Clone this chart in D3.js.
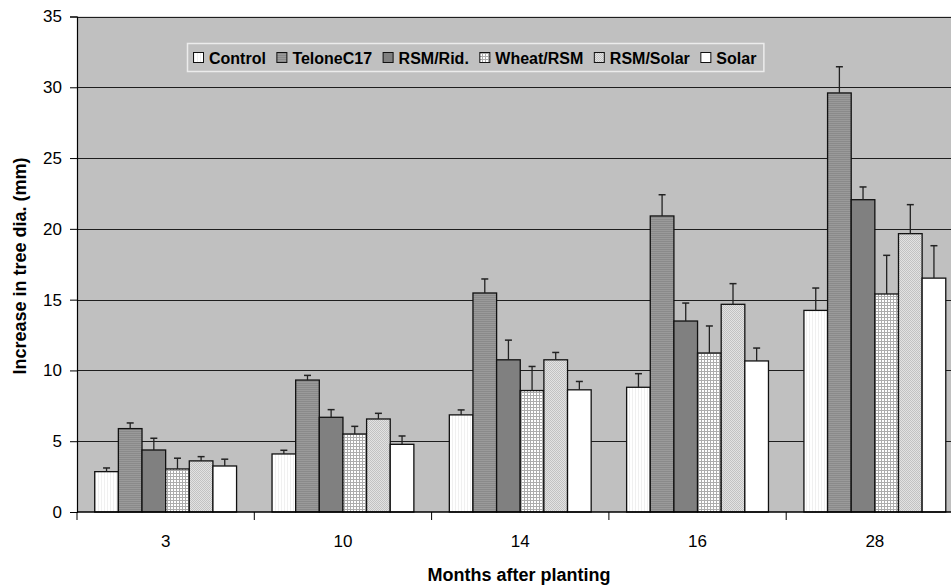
<!DOCTYPE html>
<html>
<head>
<meta charset="utf-8">
<script src="https://cdn.jsdelivr.net/npm/d3@7"></script>
<style>
  html, body { margin: 0; padding: 0; background: #fff; overflow: hidden; }
  svg { display: block; font-family: "Liberation Sans", Arial, sans-serif; }
</style>
</head>
<body>
<svg id="chart" width="951" height="587"></svg>
<script>
// ---- data ----
const categories = ["3", "10", "14", "16", "28"];
const series = ["Control", "TeloneC17", "RSM/Rid.", "Wheat/RSM", "RSM/Solar", "Solar"];
const values = [
  [2.85, 4.10, 6.86, 8.81, 14.24],   // Control
  [5.89, 9.32, 15.47, 20.91, 29.6],  // TeloneC17
  [4.38, 6.69, 10.75, 13.49, 22.06], // RSM/Rid.
  [3.04, 5.51, 8.58, 11.23, 15.4],   // Wheat/RSM
  [3.61, 6.57, 10.75, 14.67, 19.66], // RSM/Solar
  [3.25, 4.78, 8.63, 10.67, 16.52]   // Solar
];
const errors = [
  [0.26, 0.26, 0.35, 0.96, 1.58],
  [0.40, 0.33, 0.99, 1.50, 1.85],
  [0.83, 0.54, 1.39, 1.27, 0.90],
  [0.76, 0.54, 1.70, 1.91, 2.73],
  [0.30, 0.40, 0.52, 1.46, 2.05],
  [0.48, 0.59, 0.59, 0.91, 2.29]
];
const yTicks = [0, 5, 10, 15, 20, 25, 30, 35];
const xTitle = "Months after planting";
const yTitle = "Increase in tree dia. (mm)";

// ---- layout ----
const svg = d3.select("#chart");
const plotLeft = 77, plotTop = 16.5, plotBottom = 512;
const catW = 177.3;
const plotRight = plotLeft + catW * categories.length;

const x0 = d3.scaleBand().domain(categories).range([plotLeft, plotRight]).padding(0);
const x1 = d3.scaleBand().domain(series).range([catW * 0.1, catW * 0.9]).padding(0);
const y = d3.scaleLinear().domain([0, 35]).range([plotBottom, plotTop]);

// ---- patterns ----
const defs = svg.append("defs");
function pat(id, w, h, draw) {
  const p = defs.append("pattern").attr("id", id).attr("patternUnits", "userSpaceOnUse")
    .attr("width", w).attr("height", h);
  draw(p);
}
pat("pControl", 3, 3, p => {
  p.append("rect").attr("width", 3).attr("height", 3).attr("fill", "#ffffff");
  p.append("rect").attr("x", 2).attr("width", 1).attr("height", 3).attr("fill", "#f0f0f0");
});
pat("pTelone", 2, 2, p => {
  p.append("rect").attr("width", 2).attr("height", 2).attr("fill", "#9a9a9a");
  p.append("rect").attr("y", 1).attr("width", 2).attr("height", 1).attr("fill", "#8a8a8a");
});
pat("pWheat", 3, 3, p => {
  p.append("rect").attr("width", 3).attr("height", 3).attr("fill", "#acacac");
  p.append("rect").attr("width", 2).attr("height", 2).attr("fill", "#ffffff");
});
pat("pSolarR", 2, 2, p => {
  p.append("rect").attr("width", 2).attr("height", 2).attr("fill", "#e2e2e2");
  p.append("rect").attr("width", 1).attr("height", 1).attr("fill", "#c2c2c2");
  p.append("rect").attr("x", 1).attr("y", 1).attr("width", 1).attr("height", 1).attr("fill", "#c2c2c2");
});
const fills = ["url(#pControl)", "url(#pTelone)", "#808080", "url(#pWheat)", "url(#pSolarR)", "#ffffff"];

// ---- plot background ----
svg.append("rect").attr("x", plotLeft).attr("y", plotTop).attr("width", plotRight - plotLeft).attr("height", plotBottom - plotTop)
  .attr("fill", "#c0c0c0");

// gridlines
svg.append("g").selectAll("line").data(yTicks.filter(d => d > 0)).join("line")
  .attr("x1", plotLeft).attr("x2", plotRight)
  .attr("y1", d => Math.round(y(d)) + 0.5).attr("y2", d => Math.round(y(d)) + 0.5)
  .attr("stroke", "#1e1e1e").attr("stroke-width", 1.2);

// ---- bars ----
const groups = svg.append("g").selectAll("g").data(series).join("g");
groups.each(function(s, si) {
  const g = d3.select(this);
  const data = categories.map((c, ci) => ({c, v: values[si][ci], e: errors[si][ci]}));
  g.selectAll("rect").data(data).join("rect")
    .attr("x", d => x0(d.c) + x1(s))
    .attr("y", d => y(d.v))
    .attr("width", x1.bandwidth())
    .attr("height", d => plotBottom - y(d.v))
    .attr("fill", fills[si])
    .attr("stroke", "#111").attr("stroke-width", 1.3);
  g.selectAll("line.err").data(data).join("line").attr("class", "err")
    .attr("x1", d => x0(d.c) + x1(s) + x1.bandwidth() / 2)
    .attr("x2", d => x0(d.c) + x1(s) + x1.bandwidth() / 2)
    .attr("y1", d => y(d.v)).attr("y2", d => y(d.v + d.e))
    .attr("stroke", "#222").attr("stroke-width", 1.3);
  g.selectAll("line.cap").data(data).join("line").attr("class", "cap")
    .attr("x1", d => x0(d.c) + x1(s) + x1.bandwidth() / 2 - 3.5)
    .attr("x2", d => x0(d.c) + x1(s) + x1.bandwidth() / 2 + 3.5)
    .attr("y1", d => y(d.v + d.e)).attr("y2", d => y(d.v + d.e))
    .attr("stroke", "#222").attr("stroke-width", 1.5);
});

// ---- axes ----
const yAxis = d3.axisLeft(y).tickValues(yTicks).tickSize(7).tickPadding(8).tickFormat(d3.format("d"));
const gy = svg.append("g").attr("transform", `translate(${plotLeft},0)`).call(yAxis);
gy.select(".domain").attr("stroke", "#000").attr("stroke-width", 1.2);
gy.selectAll(".tick line").attr("stroke", "#000");
gy.selectAll(".tick text").attr("font-size", 17).attr("fill", "#000")
  .attr("font-family", "'Liberation Sans', Arial, sans-serif");

svg.append("line").attr("x1", plotLeft).attr("x2", plotRight).attr("y1", plotBottom).attr("y2", plotBottom)
  .attr("stroke", "#000").attr("stroke-width", 1.5);
const bounds = categories.map(c => x0(c)).concat([plotRight]);
svg.append("g").selectAll("line").data(bounds).join("line")
  .attr("x1", d => d).attr("x2", d => d).attr("y1", plotBottom).attr("y2", plotBottom + 8)
  .attr("stroke", "#000").attr("stroke-width", 1);
svg.append("g").selectAll("text").data(categories).join("text")
  .attr("x", d => x0(d) + x0.bandwidth() / 2).attr("y", 547)
  .attr("text-anchor", "middle").attr("font-size", 17).text(d => d);

svg.append("text").attr("x", 519).attr("y", 581).attr("text-anchor", "middle")
  .attr("font-size", 18).attr("font-weight", "bold").text(xTitle);
svg.append("text").attr("transform", "translate(26,266) rotate(-90)").attr("text-anchor", "middle")
  .attr("font-size", 18).attr("font-weight", "bold").text(yTitle);

// ---- legend ----
const leg = svg.append("g");
const legBox = leg.append("rect").attr("x", 187.5).attr("y", 43.5).attr("height", 28)
  .attr("fill", "#c0c0c0").attr("stroke", "#ececec").attr("stroke-width", 1.5);
let lx = 193;
series.forEach((s, i) => {
  leg.append("rect").attr("x", lx + 0.5).attr("y", 52.5).attr("width", 10).attr("height", 10)
    .attr("fill", fills[i]).attr("stroke", "#111").attr("stroke-width", 1);
  const t = leg.append("text").attr("x", lx + 16).attr("y", 64).attr("font-size", 16)
    .attr("font-weight", "bold").text(s);
  lx = lx + 16 + t.node().getComputedTextLength() + 10.5;
});
legBox.attr("width", lx - 187.5 - 3);
</script>
</body>
</html>
